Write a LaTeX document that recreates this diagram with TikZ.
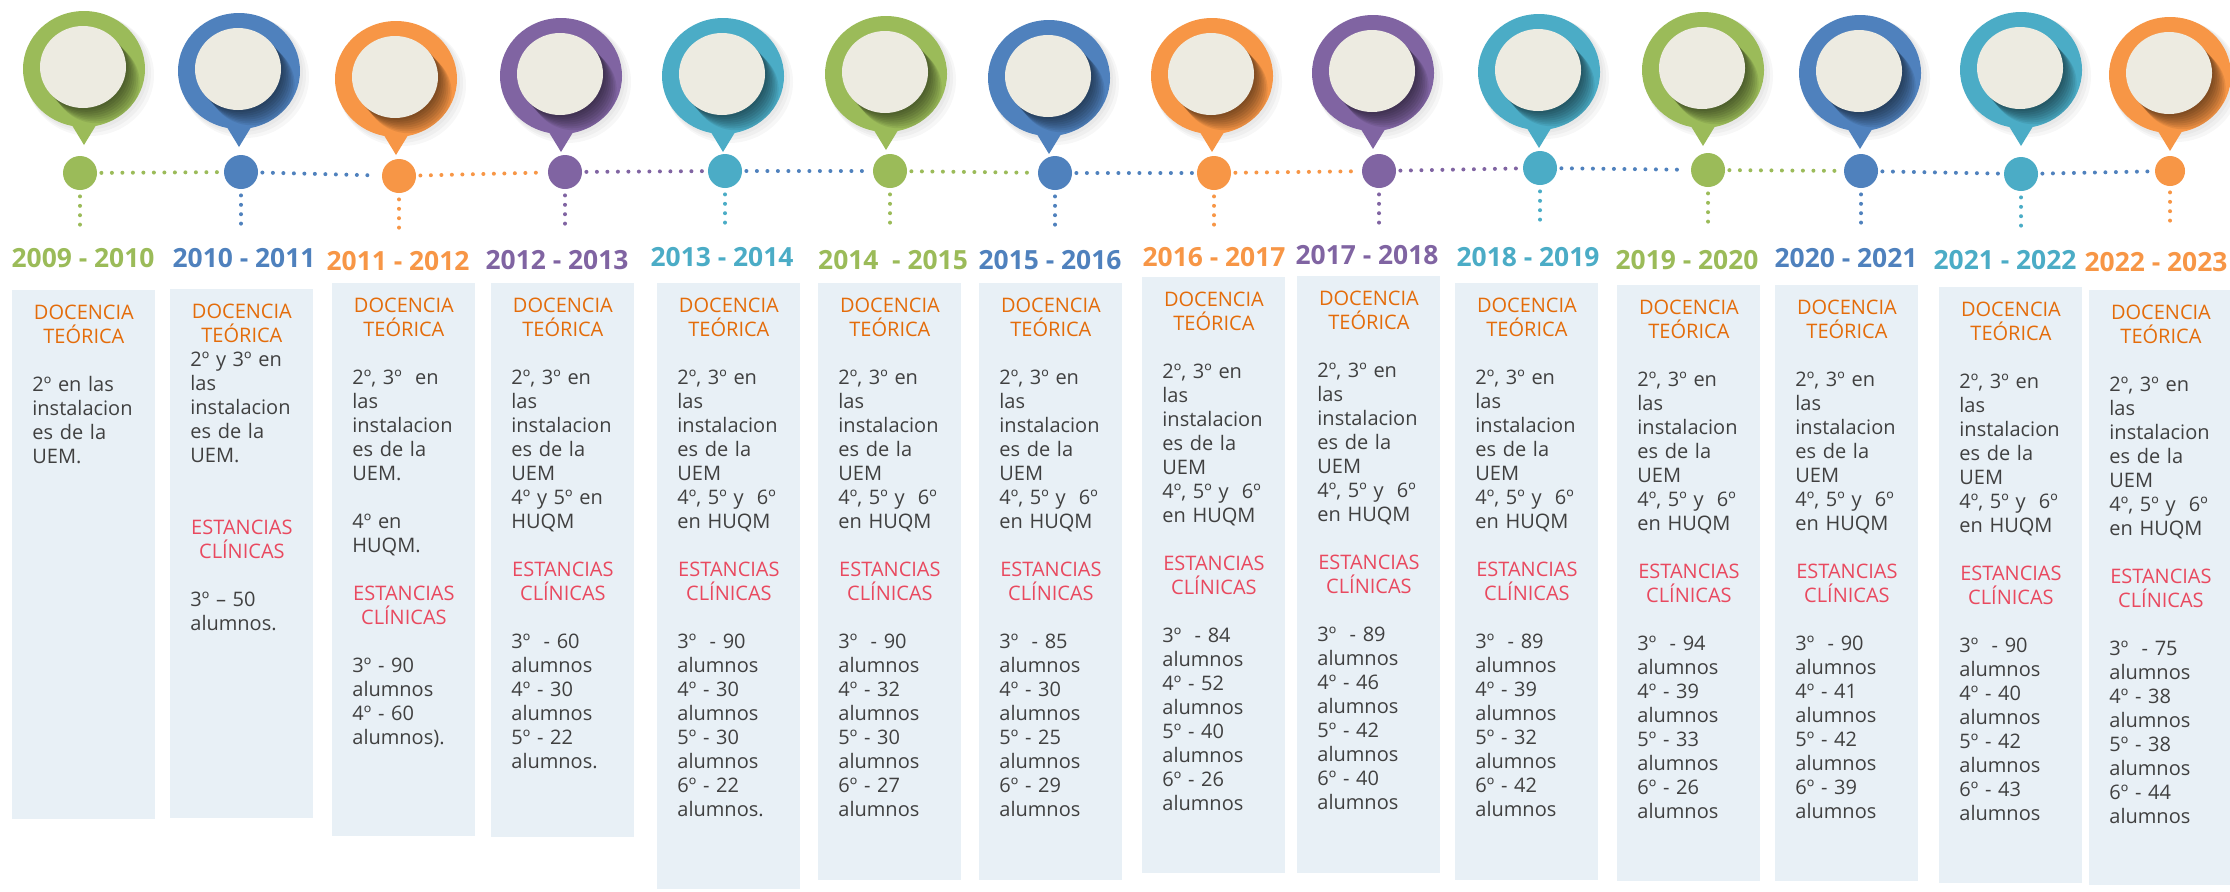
\documentclass[tikz,border=0pt]{standalone}
\usepackage{fontspec}
\setmainfont{Open Sans}
\usetikzlibrary{positioning}

\definecolor{cgreen}{HTML}{9BBB59}
\definecolor{cblue}{HTML}{4F81BD}
\definecolor{corange}{HTML}{F79646}
\definecolor{cpurple}{HTML}{8064A2}
\definecolor{cteal}{HTML}{4BACC6}
\definecolor{ccream}{HTML}{EDEBE1}
\definecolor{cbox}{HTML}{E8F0F6}
\definecolor{cdoc}{HTML}{E46C0A}
\definecolor{cest}{HTML}{E9495F}
\definecolor{ctext}{HTML}{404040}

\newcommand{\blank}{\\[12pt]}
\newcommand{\docencia}{\makebox[51.5pt][c]{\color{cdoc}DOCENCIA}\\\makebox[51.5pt][c]{\color{cdoc}TEÓRICA}}
\newcommand{\estancias}{\makebox[51.5pt][c]{\color{cest}ESTANCIAS}\\\makebox[51.5pt][c]{\color{cest}CLÍNICAS}}
\newcommand{\aulas}{2º, 3º en\\las\\instalacion\\es de la\\UEM\\4º, 5º y~ 6º\\en HUQM}

\begin{document}
\begin{tikzpicture}[x=0.5pt,y=-0.5pt]
	\tikzstyle{yeardot}=[circle,minimum size=17pt,inner sep=0pt]
	\tikzstyle{dotline}=[line width=2pt,line cap=round,dash pattern=on 0pt off 5.25pt,shorten <=2pt,shorten >=2pt]
	\tikzstyle{downline}=[line width=2pt,line cap=round,dash pattern=on 0pt off 4.7pt,shorten <=3pt]
	\tikzstyle{yearlabel}=[inner sep=0pt,font=\fontsize{13.2}{15}\selectfont\bfseries]
	\tikzstyle{infotext}=[anchor=north west,inner sep=0pt,text width=60pt,align=left,text=ctext,font=\fontsize{10}{12}\selectfont]
	\tikzstyle{infobox}=[fill=cbox]

	\useasboundingbox (0,0) rectangle (2230,891);

	% pins
	\foreach \x/\y/\c in {84/69/cgreen, 239/71/cblue, 396/79/corange, 561/76/cpurple,
		723/76/cteal, 886/74/cgreen, 1049/78/cblue, 1212/76/corange, 1373/73/cpurple,
		1539/72/cteal, 1703/70/cgreen, 1860/73/cblue, 2021/70/cteal, 2170/75/corange}{
		\foreach \k in {1,2,3}
			\fill[black,opacity=0.03] (\x+2*\k,\y+2*\k) ellipse [x radius=61+\k, y radius=58+\k];
		\fill[\c] (\x,\y) ellipse [x radius=61, y radius=58];
		\fill[\c] (\x-17,\y+48) -- (\x+17,\y+48) -- (\x,\y+76) -- cycle;
		\begin{scope}
			\clip (\x,\y) ellipse [x radius=61, y radius=58];
			\foreach \k in {1,...,8}
				\fill[black,opacity=0.075] (\x-1+1.7*\k,\y-2+1.9*\k) ellipse [x radius=43, y radius=41];
		\end{scope}
		\fill[ccream] (\x-1,\y-2) ellipse [x radius=43, y radius=41];
	}

	% timeline dots
	\node[yeardot,fill=cgreen] (d1) at (80,173) {};
	\node[yeardot,fill=cblue] (d2) at (241,172) {};
	\node[yeardot,fill=corange] (d3) at (399,176) {};
	\node[yeardot,fill=cpurple] (d4) at (565,172) {};
	\node[yeardot,fill=cteal] (d5) at (725,171) {};
	\node[yeardot,fill=cgreen] (d6) at (890,171) {};
	\node[yeardot,fill=cblue] (d7) at (1055,173) {};
	\node[yeardot,fill=corange] (d8) at (1214,173) {};
	\node[yeardot,fill=cpurple] (d9) at (1379,171) {};
	\node[yeardot,fill=cteal] (d10) at (1540,168) {};
	\node[yeardot,fill=cgreen] (d11) at (1708,170) {};
	\node[yeardot,fill=cblue] (d12) at (1861,171) {};
	\node[yeardot,fill=cteal] (d13) at (2021,174) {};
	\node[yeardot,fill=corange,minimum size=15pt] (d14) at (2170,171) {};

	\draw[dotline,cgreen] (d1) -- (d2);
	\draw[dotline,cblue] (d2) -- (d3);
	\draw[dotline,corange] (d3) -- (d4);
	\draw[dotline,cpurple] (d4) -- (d5);
	\draw[dotline,cblue] (d5) -- (d6);
	\draw[dotline,cgreen] (d6) -- (d7);
	\draw[dotline,cblue] (d7) -- (d8);
	\draw[dotline,corange] (d8) -- (d9);
	\draw[dotline,cpurple] (d9) -- (d10);
	\draw[dotline,cblue] (d10) -- (d11);
	\draw[dotline,cgreen] (d11) -- (d12);
	\draw[dotline,cblue] (d12) -- (d13);
	\draw[dotline,cblue] (d13) -- (d14);

	\foreach \i/\c in {1/cgreen, 2/cblue, 3/corange, 4/cpurple, 5/cteal, 6/cgreen, 7/cblue,
		8/corange, 9/cpurple, 10/cteal, 11/cgreen, 12/cblue, 13/cteal, 14/corange}{
		\coordinate[below=20pt of d\i] (v\i);
		\draw[downline,\c] (d\i) -- (v\i);
	}

	% years
	\node[yearlabel,text=cgreen] (y1) at (83,258) {2009 - 2010};
	\node[yearlabel,text=cblue] (y2) at (244,258) {2010 - 2011};
	\node[yearlabel,text=corange] (y3) at (398,261) {2011 - 2012};
	\node[yearlabel,text=cpurple] (y4) at (557,260) {2012 - 2013};
	\node[yearlabel,text=cteal] (y5) at (722,257) {2013 - 2014};
	\node[yearlabel,text=cgreen] (y6) at (893,260) {2014~ - 2015};
	\node[yearlabel,text=cblue] (y7) at (1050,260) {2015 - 2016};
	\node[yearlabel,text=corange] (y8) at (1214,257) {2016 - 2017};
	\node[yearlabel,text=cpurple] (y9) at (1367,255) {2017 - 2018};
	\node[yearlabel,text=cteal] (y10) at (1528,257) {2018 - 2019};
	\node[yearlabel,text=cgreen] (y11) at (1687,260) {2019 - 2020};
	\node[yearlabel,text=cblue] (y12) at (1846,258) {2020 - 2021};
	\node[yearlabel,text=cteal] (y13) at (2005,260) {2021 - 2022};
	\node[yearlabel,text=corange] (y14) at (2156,262) {2022 - 2023};

	% boxes
	\foreach \l/\t/\b in {12/290/819, 170/289/818, 332/283/836, 491/283/837, 657/283/889,
		818/283/880, 979/283/880, 1142/277/873, 1297/276/873, 1455/283/880,
		1617/285/881, 1775/285/881, 1939/287/883, 2089/290/885}
		\fill[infobox] (\l,\t) rectangle (\l+143,\b);

	\node[infotext] (t1) at (32,305) {\docencia\blank 2º en las\\instalacion\\es de la\\UEM.};
	\node[infotext] (t2) at (190,304) {\docencia\\2º y 3º en\\las\\instalacion\\es de la\\UEM.\\[24pt]\estancias\blank 3º – 50\\alumnos.};
	\node[infotext] (t3) at (352,298) {\docencia\blank 2º, 3º~ en\\las\\instalacion\\es de la\\UEM.\blank 4º en\\HUQM.\blank\estancias\blank 3º - 90\\alumnos\\4º - 60\\alumnos).};
	\node[infotext] (t4) at (511,298) {\docencia\blank 2º, 3º en\\las\\instalacion\\es de la\\UEM\\4º y 5º en\\HUQM\blank\estancias\blank 3º~ - 60\\alumnos\\4º - 30\\alumnos\\5º - 22\\alumnos.};
	\node[infotext] (t5) at (677,298) {\docencia\blank\aulas\blank\estancias\blank 3º~ - 90\\alumnos\\4º - 30\\alumnos\\5º - 30\\alumnos\\6º - 22\\alumnos.};
	\node[infotext] (t6) at (838,298) {\docencia\blank\aulas\blank\estancias\blank 3º~ - 90\\alumnos\\4º - 32\\alumnos\\5º - 30\\alumnos\\6º - 27\\alumnos};
	\node[infotext] (t7) at (999,298) {\docencia\blank\aulas\blank\estancias\blank 3º~ - 85\\alumnos\\4º - 30\\alumnos\\5º - 25\\alumnos\\6º - 29\\alumnos};
	\node[infotext] (t8) at (1162,292) {\docencia\blank\aulas\blank\estancias\blank 3º~ - 84\\alumnos\\4º - 52\\alumnos\\5º - 40\\alumnos\\6º - 26\\alumnos};
	\node[infotext] (t9) at (1317,291) {\docencia\blank\aulas\blank\estancias\blank 3º~ - 89\\alumnos\\4º - 46\\alumnos\\5º - 42\\alumnos\\6º - 40\\alumnos};
	\node[infotext] (t10) at (1475,298) {\docencia\blank\aulas\blank\estancias\blank 3º~ - 89\\alumnos\\4º - 39\\alumnos\\5º - 32\\alumnos\\6º - 42\\alumnos};
	\node[infotext] (t11) at (1637,300) {\docencia\blank\aulas\blank\estancias\blank 3º~ - 94\\alumnos\\4º - 39\\alumnos\\5º - 33\\alumnos\\6º - 26\\alumnos};
	\node[infotext] (t12) at (1795,300) {\docencia\blank\aulas\blank\estancias\blank 3º~ - 90\\alumnos\\4º - 41\\alumnos\\5º - 42\\alumnos\\6º - 39\\alumnos};
	\node[infotext] (t13) at (1959,302) {\docencia\blank\aulas\blank\estancias\blank 3º~ - 90\\alumnos\\4º - 40\\alumnos\\5º - 42\\alumnos\\6º - 43\\alumnos};
	\node[infotext] (t14) at (2109,305) {\docencia\blank\aulas\blank\estancias\blank 3º~ - 75\\alumnos\\4º - 38\\alumnos\\5º - 38\\alumnos\\6º - 44\\alumnos};
\end{tikzpicture}
\end{document}
